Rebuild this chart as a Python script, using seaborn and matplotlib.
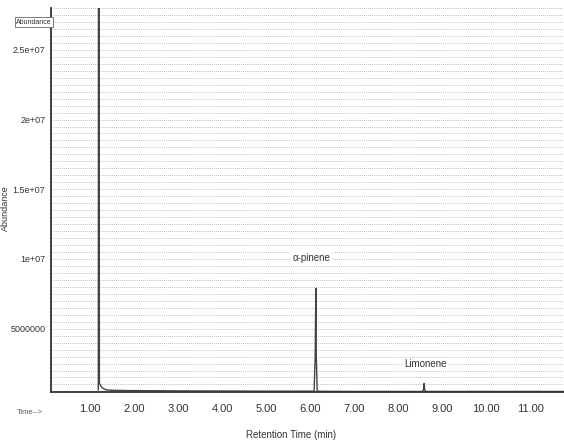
import matplotlib
matplotlib.use("Agg")
import matplotlib.pyplot as plt
import matplotlib.ticker as mticker
import seaborn as sns
import pandas as pd

# chromatogram trace (time in min, abundance in counts)
ret_time = [1.185, 1.19, 1.195, 1.20, 1.205, 1.21, 1.24, 1.28, 1.35, 1.5, 2.0, 2.5, 3.0,
            4.0, 5.0, 6.0, 6.09, 6.115, 6.13, 6.14, 6.16, 6.25, 7.0, 8.0, 8.55,
            8.575, 8.59, 8.605, 8.63, 9.0, 10.0, 11.0, 11.8]
abundance = [6.0e5, 3.6e7, 3.6e7, 3.6e7, 3.6e7, 1.1e6, 9.0e5, 7.5e5, 6.2e5, 5.8e5, 5.6e5, 5.5e5, 5.4e5,
             5.3e5, 5.2e5, 5.2e5, 5.2e5, 3.0e6, 7.9e6, 3.0e6, 5.2e5, 5.1e5, 5.0e5, 5.0e5, 5.0e5,
             6.0e5, 1.07e6, 6.0e5, 5.0e5, 5.0e5, 5.0e5, 5.0e5, 5.0e5]

peak_names = ["\u03b1-pinene", "Limonene"]
peak_times = [6.13, 8.59]
peak_heights = [7.9e6, 1.07e6]

x_ticks = [1, 2, 3, 4, 5, 6, 7, 8, 9, 10, 11]
x_labels = ["1.00", "2.00", "3.00", "4.00", "5.00", "6.00", "7.00", "8.00", "9.00", "10.00", "11.00"]
y_ticks = [5e6, 1e7, 1.5e7, 2e7, 2.5e7]
y_labels = ["5000000", "1e+07", "1.5e+07", "2e+07", "2.5e+07"]

df = pd.DataFrame({"time": ret_time, "abundance": abundance})

sns.set_style("white")
plt.rcParams["font.family"] = ["Liberation Sans Narrow", "Liberation Sans", "DejaVu Sans"]

fig = plt.figure(figsize=(5.64, 4.42), dpi=100)
ax = fig.add_axes([51 / 564, 1 - 392 / 442, 1 - 51 / 564, 384 / 442])

sns.lineplot(data=df, x="time", y="abundance", ax=ax, sort=False, estimator=None,
             color="#444444", linewidth=1.0)

ax.set_xlim(0.11, 11.77)
ax.set_ylim(4.6e5, 2.8e7)

ax.xaxis.set_major_locator(mticker.FixedLocator(x_ticks))
ax.xaxis.set_major_formatter(mticker.FixedFormatter(x_labels))
ax.xaxis.set_minor_locator(mticker.MultipleLocator(0.2))
ax.yaxis.set_major_locator(mticker.FixedLocator(y_ticks))
ax.yaxis.set_major_formatter(mticker.FixedFormatter(y_labels))
ax.yaxis.set_minor_locator(mticker.MultipleLocator(5e5))

ax.tick_params(axis="x", which="major", direction="out", length=7, width=1.2,
               labelsize=8, pad=2, colors="#333333")
ax.tick_params(axis="x", which="minor", direction="out", length=4, width=1.2, colors="#333333")
ax.tick_params(axis="y", which="major", direction="out", length=3, width=1.0,
               labelsize=6.5, pad=1, colors="#333333")
ax.tick_params(axis="y", which="minor", length=0)

ax.grid(False)
ax.grid(axis="y", which="both", color="#a8a8a8", linestyle=(0, (1, 1.5)), linewidth=0.6)

for side in ["top", "right"]:
    ax.spines[side].set_visible(False)
for side in ["left", "bottom"]:
    ax.spines[side].set_color("#333333")
    ax.spines[side].set_linewidth(1.3)

ax.set_xlabel("Retention Time (min)", fontsize=7, color="#333333")
ax.xaxis.set_label_coords((291 - 51) / 513, -0.1)
ax.set_ylabel("Abundance", fontsize=6.5, color="#333333")
ax.yaxis.set_label_coords(-0.08, 0.48)

offsets = [(-3, 22), (1, 14)]
for name, t, h, off in zip(peak_names, peak_times, peak_heights, offsets):
    ax.annotate(name, xy=(t, h), xytext=off, textcoords="offset points",
                ha="center", va="center", fontsize=7, color="#333333",
                bbox=dict(boxstyle="square,pad=0.15", fc="white", ec="none"))

fig.text(34 / 564, 1 - 22 / 442, "Abundance", fontsize=5, color="#333333", ha="center", va="center",
         bbox=dict(boxstyle="square,pad=0.15", fc="white", ec="#666666", lw=0.6))
fig.text(30 / 564, 1 - 413 / 442, "Time-->", fontsize=5.5, color="#555555", ha="center", va="center")

fig.savefig("out.png", dpi=100, facecolor="white")
